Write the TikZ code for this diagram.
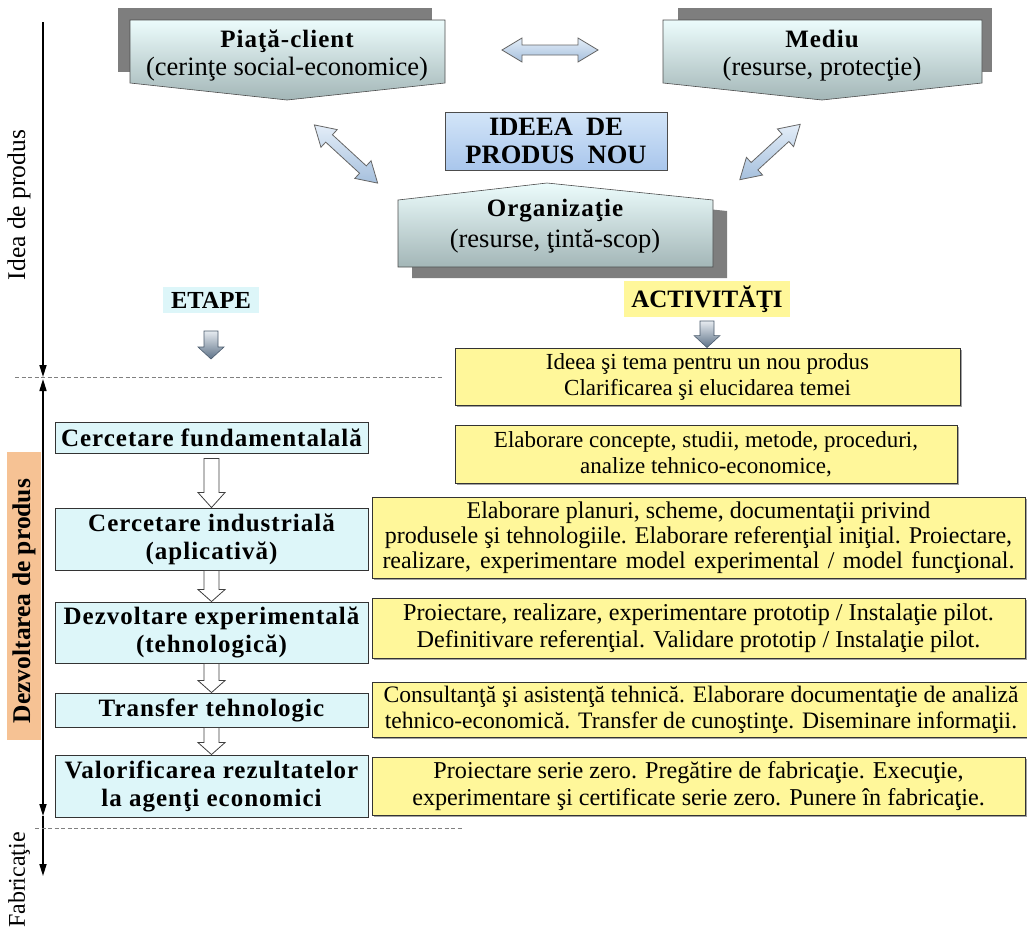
\documentclass[tikz,border=0pt]{standalone}
\usepackage{fontspec}
\setmainfont{Liberation Serif}
\usetikzlibrary{arrows.meta,shadows,calc}
\definecolor{cyanbox}{HTML}{DDF6F9}
\definecolor{actyellow}{HTML}{FFF79A}
\definecolor{orangebg}{HTML}{F6C294}
\definecolor{shadowgray}{HTML}{7E7E7E}
\definecolor{topA}{HTML}{ECFCFC}
\definecolor{topB}{HTML}{A3B6B7}
\definecolor{ideaA}{HTML}{D3E5F8}
\definecolor{ideaB}{HTML}{A9C6EC}
\definecolor{arrA}{HTML}{E3EDF8}
\definecolor{arrB}{HTML}{A6C0DD}
\definecolor{garrA}{HTML}{E6EBF0}
\definecolor{garrB}{HTML}{5E7288}
\newcommand\blkdown[6]{% #1 style, #2 start, #3 end, #4 shaft half, #5 head half, #6 head length
  \path[#1] let \p1=#2, \p2=#3 in
    (\x1-#4,\y1) -- (\x1+#4,\y1) -- (\x1+#4,\y2+#6) -- (\x1+#5,\y2+#6) -- (\x1,\y2)
    -- (\x1-#5,\y2+#6) -- (\x1-#4,\y2+#6) -- cycle;}
\newcommand\dblarrow[3]{% center, angle, half length
  \draw[dblarr, shift={#1}, rotate=#2] (-#3,0) -- ({-#3+20},12) -- ({-#3+20},5) -- ({#3-20},5)
    -- ({#3-20},12) -- (#3,0) -- ({#3-20},-12) -- ({#3-20},-5) -- ({-#3+20},-5) -- ({-#3+20},-12) -- cycle;}
\newcommand\spacedbf{\bfseries\addfontfeature{LetterSpace=4}}
\begin{document}
\begin{tikzpicture}[x=1pt,y=-1pt,
  >={Triangle[length=12pt,width=7pt]},
  every node/.style={inner sep=0pt},
  txt/.style={font=\fontsize{24}{27}\selectfont, align=center},
  stagebox/.style={draw=black!80, line width=0.9pt, fill=cyanbox, align=center,
     font=\fontsize{25}{28}\selectfont\spacedbf, minimum width=313pt},
  actbox/.style={draw=black!80, line width=0.9pt, fill=actyellow, align=center,
     drop shadow={shadow xshift=1.5pt, shadow yshift=-1.5pt, fill=black!45, opacity=0.8}},
  axisline/.style={line width=1.6pt, black},
  sepline/.style={dash pattern=on 4pt off 2.5pt, gray, line width=1pt},
  hollow/.style={draw=black!75, fill=white, line width=0.8pt},
  gradarrow/.style={draw=garrB!80!black, top color=garrA, bottom color=garrB, line width=0.6pt},
  dblarr/.style={draw=gray!80!black, top color=arrA, bottom color=arrB, line width=0.8pt},
  topshape/.style={draw=gray!60!black, line width=0.6pt, top color=topA, bottom color=topB},
  toptxt/.style={align=center, font=\fontsize{26.5}{28}\selectfont}
]
\useasboundingbox (0,0) rectangle (1027,930);

% ---- axis on the left
\coordinate (ax0) at (43,22);
\coordinate (ax1) at (43,377);
\coordinate (ax2) at (43,379);
\coordinate (ax3) at (43,816);
\coordinate (ax4) at (43,876);
\draw[axisline,->] (ax0) -- (ax1);
\draw[axisline,<->] (ax2) -- (ax3);
\draw[axisline,->] (ax3) -- (ax4);

% ---- separators
\coordinate (d1a) at (15,377);
\coordinate (d1b) at (443,377);
\coordinate (d2a) at (35,828);
\coordinate (d2b) at (462,828);
\draw[sepline] (d1a) -- (d1b);
\draw[sepline] (d2a) -- (d2b);

% ---- left labels
\node[txt, font=\fontsize{25.5}{27}\selectfont, rotate=90] (lidea) at (19,205) {Idea de produs};
\node[fill=orangebg, minimum width=34pt, minimum height=288pt] (dzbg) at (24,596) {};
\node[rotate=90, font=\bfseries\fontsize{25.5}{27}\selectfont] (ldz) at (24,601) {Dezvoltarea de produs};
\node[txt, font=\fontsize{24}{27}\selectfont, rotate=90] (lfab) at (19,880) {Fabricaţie};

% ---- top shapes
\fill[shadowgray] (118,8) rectangle (432,72);
\path[topshape] (130,20) -- (445,20) -- (445,83) -- (287,100) -- (130,83) -- cycle;
\node[toptxt] (piata) at (287,56) {{\fontsize{25}{28}\selectfont\spacedbf Piaţă-client}\\(cerinţe social-economice)};

\fill[shadowgray] (678,8) rectangle (992,72);
\path[topshape] (663,20) -- (982,20) -- (982,83) -- (822,100) -- (663,83) -- cycle;
\node[toptxt] (mediu) at (822,56) {{\fontsize{25}{28}\selectfont\spacedbf Mediu}\\(resurse, protecţie)};

\fill[shadowgray] (412,211) -- (561,194) -- (727,211) -- (727,278) -- (412,278) -- cycle;
\path[topshape] (398,200) -- (547,183) -- (713,200) -- (713,267) -- (398,267) -- cycle;
\node[toptxt, font=\fontsize{26.5}{31}\selectfont] (org) at (555,226) {{\fontsize{25}{28}\selectfont\spacedbf Organizaţie}\\(resurse, ţintă-scop)};

\node[draw=black!70, line width=0.9pt, top color=ideaA, bottom color=ideaB,
      minimum width=222pt, minimum height=58pt, align=center, font=\bfseries\fontsize{26.5}{28}\selectfont] (idea) at (556,141)
      {IDEEA\ \ DE\\PRODUS\ \ NOU};

% ---- double arrows
\dblarrow{(550,50)}{0}{48}
\dblarrow{(346,154)}{-42.6}{43}
\dblarrow{(770,152)}{42.5}{41}

% ---- column headings
\node[font=\bfseries\fontsize{24.5}{26}\selectfont, fill=cyanbox, inner xsep=8pt, inner ysep=5pt] (etape) at (211,300) {ETAPE};
\node[font=\bfseries\fontsize{25}{26}\selectfont, fill=actyellow, inner xsep=7pt, inner ysep=5pt] (activ) at (707,299) {ACTIVITĂŢI};
\coordinate (ea1) at (211,331);
\coordinate (ea2) at (211,359);
\blkdown{gradarrow}{(ea1)}{(ea2)}{7pt}{13pt}{12pt}

% ---- activity boxes
\node[actbox, font=\fontsize{23}{26}\selectfont, minimum width=505pt, minimum height=57pt] (b1) at (707.5,376.5)
  {Ideea şi tema pentru un nou produs\\Clarificarea şi elucidarea temei};
\coordinate (aa1) at (707,321);
\blkdown{gradarrow}{(aa1)}{(b1.north)}{7pt}{13pt}{12pt}
\node[actbox, font=\fontsize{23}{26}\selectfont, minimum width=502pt, minimum height=58pt] (b2) at (706,454)
  {Elaborare concepte, studii, metode, proceduri,\\analize tehnico-economice,};
\node[actbox, font=\fontsize{24}{25}\selectfont, minimum width=653pt, minimum height=81pt] (b3) at (698.5,537.5)
  {Elaborare planuri, scheme, documentaţii privind\\produsele şi tehnologiile. Elaborare referenţial iniţial. Proiectare,\\\makebox[632pt][s]{realizare, experimentare model experimental / model funcţional.}};
\node[actbox, font=\fontsize{24.2}{27}\selectfont, minimum width=653pt, minimum height=60pt] (b4) at (698.5,628)
  {Proiectare, realizare, experimentare prototip / Instalaţie pilot.\\Definitivare referenţial. Validare prototip / Instalaţie pilot.};
\node[actbox, font=\fontsize{23.6}{26}\selectfont, minimum width=658pt, minimum height=55pt] (b5) at (701,709.5)
  {Consultanţă şi asistenţă tehnică. Elaborare documentaţie de analiză\\tehnico-economică. Transfer de cunoştinţe. Diseminare informaţii.};
\node[actbox, font=\fontsize{24.2}{27}\selectfont, minimum width=653pt, minimum height=58pt] (b6) at (698.5,786)
  {Proiectare serie zero. Pregătire de fabricaţie. Execuţie,\\experimentare şi certificate serie zero. Punere în fabricaţie.};

% ---- stage boxes
\node[stagebox, minimum height=31pt] (s1) at (211.5,437.5) {Cercetare fundamentalală};
\node[stagebox, minimum height=62pt] (s2) at (211.5,539) {Cercetare industrială\\(aplicativă)};
\node[stagebox, minimum height=61pt] (s3) at (211.5,632.5) {Dezvoltare experimentală\\(tehnologică)};
\node[stagebox, minimum height=34pt] (s4) at (211.5,710) {Transfer tehnologic};
\node[stagebox, minimum height=62pt] (s5) at (211.5,786) {Valorificarea rezultatelor\\la agenţi economici};

\blkdown{hollow}{($(s1.south)+(0,5)$)}{(s2.north)}{7.5pt}{13.5pt}{15pt}
\blkdown{hollow}{(s2.south)}{(s3.north)}{7.5pt}{13.5pt}{12pt}
\blkdown{hollow}{(s3.south)}{(s4.north)}{7.5pt}{13.5pt}{12pt}
\blkdown{hollow}{(s4.south)}{(s5.north)}{7.5pt}{13.5pt}{12pt}
\end{tikzpicture}
\end{document}
